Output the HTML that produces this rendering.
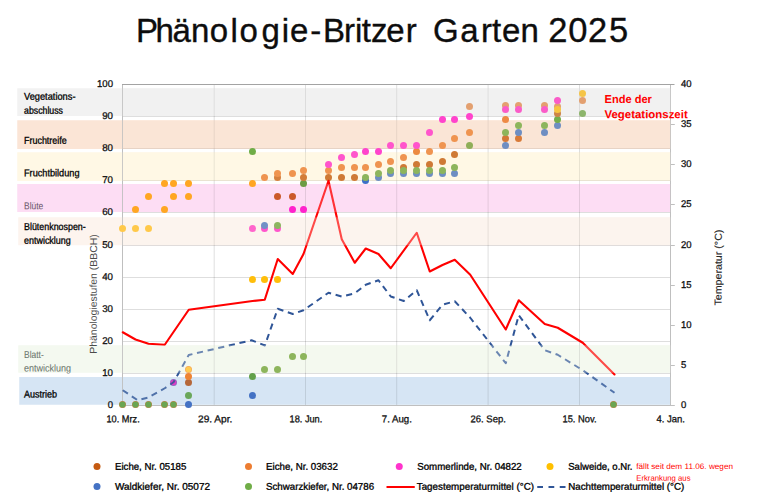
<!DOCTYPE html>
<html lang="de"><head><meta charset="utf-8"><title>Phänologie-Britzer Garten 2025</title>
<style>html,body{margin:0;padding:0;background:#fff}body{width:767px;height:496px;overflow:hidden}svg{display:block}text{font-family:"Liberation Sans", sans-serif}</style></head><body>
<svg width="767" height="496" viewBox="0 0 767 496">
<rect width="767" height="496" fill="#fff"/>
<g transform="translate(0.25 0.25)">
<rect x="17" y="88" width="653.25" height="27.75" fill="#F2F2F2"/>
<rect x="17" y="120" width="653.25" height="28.75" fill="#FBE5D6"/>
<rect x="17" y="152" width="653.25" height="28.75" fill="#FFF8E5"/>
<rect x="17" y="183.75" width="653.25" height="28" fill="#FDDDF4"/>
<rect x="18" y="217" width="652.25" height="28" fill="#FDF4EE"/>
<rect x="18" y="345" width="652.25" height="27.5" fill="#F4F9F0"/>
<rect x="19" y="376.75" width="651.25" height="27.75" fill="#D6E5F4"/>
</g>
<path d="M123 373.5H670M123 341.5H670M123 309.5H670M123 277.5H670M123 245.5H670M123 212.5H670M123 180.5H670M123 148.5H670M123 116.5H670M214.2 85V405M305.5 85V405M396.7 85V405M488.1 85V405M579.5 85V405" stroke="#000" stroke-opacity="0.13" stroke-width="1" fill="none"/>
<path d="M122.5 84V406M670.5 84V406M122 405.5H671" stroke="#BFBFBF" stroke-width="1" fill="none"/>
<path d="M122 84.5H674.5" stroke="#A3A3A3" stroke-width="1" fill="none"/>
<path d="M671 405.5h3.8M671 365.5h3.8M671 325.5h3.8M671 285.5h3.8M671 245.5h3.8M671 204.5h3.8M671 164.5h3.8M671 124.5h3.8" stroke="#BFBFBF" stroke-width="1" fill="none"/>
<g transform="translate(0.25 0.25)">
<polyline points="122.5,332 135.25,339.25 148.25,343.5 164.5,344.5 188.5,309.5 252.25,300.75 264.5,299.5 277.5,258.75 292.5,273.75 303.25,253.75 328.25,180.5 341.5,239 354.5,262.5 365.5,248.25 378.25,253.75 390.5,268 416.5,232.5 429.5,271.25 442.25,264.75 454.5,259.5 470,274.5 505.5,329.25 518.5,300 544.5,323.75 557.5,327.5 582.5,342.5 614.25,374.25" fill="none" stroke="#FF0000" stroke-width="2.1" stroke-linejoin="round" stroke-linecap="round"/>
<polyline id="nt" points="122.5,390 137.5,400 147.5,397.5 164.5,388 173.25,382 188.5,354.75 251.3,340 264.6,345.2 277.5,308.5 292.5,313.75 303.25,310 328.25,292.5 341.5,296.25 354.5,293 365.5,284.5 378.25,280 390.5,296.25 403.5,300.75 416.5,290 429.5,320 442.25,304.5 454.5,301 470,317.5 505.5,363 518.5,315 544.5,350 557.5,354.5 582.5,370 614.25,392.5" fill="none" stroke="#2F5597" stroke-width="2" stroke-dasharray="6.2 4.7" stroke-linejoin="round"/>
<rect x="122.25" y="88" width="548" height="27.75" fill="#F2F2F2" fill-opacity="0.35"/>
<rect x="122.25" y="120" width="548" height="28.75" fill="#FBE5D6" fill-opacity="0.4"/>
<rect x="122.25" y="152" width="548" height="28.75" fill="#FFF8E5" fill-opacity="0.35"/>
<rect x="122.25" y="183.75" width="548" height="28" fill="#FDDDF4" fill-opacity="0.22"/>
<rect x="122.25" y="217" width="548" height="28" fill="#FDF4EE" fill-opacity="0.3"/>
<rect x="122.25" y="345" width="548" height="27.5" fill="#F4F9F0" fill-opacity="0.3"/>
<rect x="122.25" y="376.75" width="548" height="27.75" fill="#D6E5F4" fill-opacity="0.2"/>
</g>
<circle cx="122.5" cy="228.5" r="3.5" fill="#FFC94A"/>
<circle cx="135.5" cy="228.5" r="3.5" fill="#FFC94A"/>
<circle cx="148.5" cy="228.5" r="3.5" fill="#FFC94A"/>
<circle cx="135.5" cy="209.5" r="3.5" fill="#FFA622"/>
<circle cx="148.5" cy="196.5" r="3.5" fill="#FFA622"/>
<circle cx="164.5" cy="209.5" r="3.5" fill="#FFA622"/>
<circle cx="164.5" cy="183.5" r="3.5" fill="#FFA622"/>
<circle cx="173.5" cy="183.5" r="3.5" fill="#FFA622"/>
<circle cx="173.5" cy="196.5" r="3.5" fill="#FFA622"/>
<circle cx="188.5" cy="183.5" r="3.5" fill="#FFA622"/>
<circle cx="188.5" cy="196.5" r="3.5" fill="#FFA622"/>
<circle cx="252.5" cy="183.5" r="3.5" fill="#FFA622"/>
<circle cx="252.5" cy="279.5" r="3.5" fill="#FFBE0A"/>
<circle cx="264.5" cy="279.5" r="3.5" fill="#FFBE0A"/>
<circle cx="277.5" cy="279.5" r="3.5" fill="#FFBE0A"/>
<circle cx="122.5" cy="404.5" r="3.5" fill="#C9824A"/><circle cx="122.5" cy="404.5" r="3.1" fill="#6AA552"/>
<circle cx="135.5" cy="404.5" r="3.5" fill="#C9824A"/><circle cx="135.5" cy="404.5" r="3.1" fill="#6AA552"/>
<circle cx="148.5" cy="404.5" r="3.5" fill="#C9824A"/><circle cx="148.5" cy="404.5" r="3.1" fill="#6AA552"/>
<circle cx="164.5" cy="404.5" r="3.5" fill="#C9824A"/><circle cx="164.5" cy="404.5" r="3.1" fill="#6AA552"/>
<circle cx="173.5" cy="404.5" r="3.5" fill="#C9824A"/><circle cx="173.5" cy="404.5" r="3.1" fill="#6AA552"/>
<circle cx="188.5" cy="404.5" r="3.5" fill="#4472C4"/>
<circle cx="188.5" cy="395.5" r="3.5" fill="#6AA75A"/>
<circle cx="188.5" cy="382.5" r="3.5" fill="#B5673A"/>
<circle cx="188.5" cy="376.5" r="3.5" fill="#EE8434"/>
<circle cx="188.5" cy="369.5" r="3.5" fill="#F6A85A"/><circle cx="188.5" cy="369.5" r="2.8" fill="#FFCB50"/>
<circle cx="173.5" cy="382.5" r="3.5" fill="#8E6BC0"/><circle cx="173.5" cy="382.5" r="2.8" fill="#DC3CC4"/>
<circle cx="252.5" cy="376.5" r="3.5" fill="#62A04A"/>
<circle cx="252.5" cy="395.5" r="3.5" fill="#4472C4"/>
<circle cx="264.5" cy="369.5" r="3.5" fill="#8DB55C"/>
<circle cx="277.5" cy="369.5" r="3.5" fill="#8DB55C"/>
<circle cx="292.5" cy="356.5" r="3.5" fill="#8DB55C"/>
<circle cx="303.5" cy="356.5" r="3.5" fill="#8DB55C"/>
<circle cx="252.5" cy="151.5" r="3.5" fill="#70AD47"/>
<circle cx="252.5" cy="228.5" r="3.5" fill="#FF66CC"/>
<circle cx="264.5" cy="228.5" r="3.5" fill="#FF55CC"/>
<circle cx="277.5" cy="228.5" r="3.5" fill="#FF55CC"/>
<circle cx="264.5" cy="225.5" r="3.5" fill="#7290C6"/>
<circle cx="277.5" cy="225.5" r="3.5" fill="#8DB560"/>
<circle cx="277.5" cy="196.5" r="3.5" fill="#CB5A2A"/>
<circle cx="292.5" cy="196.5" r="3.5" fill="#CB5A2A"/>
<circle cx="292.5" cy="209.5" r="3.5" fill="#FF22CC"/>
<circle cx="303.5" cy="209.5" r="3.5" fill="#FF22CC"/>
<circle cx="264.5" cy="177.5" r="3.5" fill="#EF9450"/>
<circle cx="277.5" cy="177.5" r="3.5" fill="#D5803F"/>
<circle cx="277.5" cy="173.5" r="3.5" fill="#EF9450"/>
<circle cx="292.5" cy="173.5" r="3.5" fill="#EF9450"/>
<circle cx="303.5" cy="183.5" r="3.5" fill="#6C9C44"/>
<circle cx="303.5" cy="177.5" r="3.5" fill="#D27C38"/>
<circle cx="303.5" cy="170.5" r="3.5" fill="#EF9450"/>
<circle cx="328.5" cy="177.5" r="3.5" fill="#CF7A35"/>
<circle cx="328.5" cy="170.5" r="3.5" fill="#EF9450"/>
<circle cx="328.5" cy="164.5" r="3.5" fill="#FF55CC"/>
<circle cx="341.5" cy="177.5" r="3.5" fill="#CF7A35"/>
<circle cx="341.5" cy="167.5" r="3.5" fill="#EF9450"/>
<circle cx="341.5" cy="157.5" r="3.5" fill="#FF55CC"/>
<circle cx="354.5" cy="177.5" r="3.5" fill="#CF7A35"/>
<circle cx="354.5" cy="167.5" r="3.5" fill="#EF9450"/>
<circle cx="354.5" cy="154.5" r="3.5" fill="#FF55CC"/>
<circle cx="365.5" cy="180.5" r="3.5" fill="#3D6FC8"/>
<circle cx="365.5" cy="177.5" r="3.5" fill="#8DB55C"/>
<circle cx="365.5" cy="167.5" r="3.5" fill="#EF9450"/>
<circle cx="365.5" cy="151.5" r="3.5" fill="#FF44CC"/>
<circle cx="378.5" cy="177.5" r="3.5" fill="#6E8EC2"/>
<circle cx="378.5" cy="173.5" r="3.5" fill="#8DB55C"/>
<circle cx="378.5" cy="164.5" r="3.5" fill="#EF9450"/>
<circle cx="378.5" cy="151.5" r="3.5" fill="#FF44CC"/>
<circle cx="390.5" cy="173.5" r="3.5" fill="#6E8EC2"/>
<circle cx="390.5" cy="170.5" r="3.5" fill="#8DB55C"/>
<circle cx="390.5" cy="161.5" r="3.5" fill="#EF9450"/>
<circle cx="390.5" cy="145.5" r="3.5" fill="#FF55CC"/>
<circle cx="403.5" cy="167.5" r="3.5" fill="#CF7A35"/>
<circle cx="403.5" cy="173.5" r="3.5" fill="#6E8EC2"/>
<circle cx="403.5" cy="170.5" r="3.5" fill="#8DB55C"/>
<circle cx="403.5" cy="157.5" r="3.5" fill="#EF9450"/>
<circle cx="403.5" cy="145.5" r="3.5" fill="#FF55CC"/>
<circle cx="416.5" cy="164.5" r="3.5" fill="#CF7A35"/>
<circle cx="416.5" cy="173.5" r="3.5" fill="#6E8EC2"/>
<circle cx="416.5" cy="170.5" r="3.5" fill="#8DB55C"/>
<circle cx="416.5" cy="151.5" r="3.5" fill="#EC8A40"/>
<circle cx="416.5" cy="145.5" r="3.5" fill="#FF55CC"/>
<circle cx="429.5" cy="164.5" r="3.5" fill="#CF7A35"/>
<circle cx="429.5" cy="173.5" r="3.5" fill="#6E8EC2"/>
<circle cx="429.5" cy="170.5" r="3.5" fill="#8DB55C"/>
<circle cx="429.5" cy="151.5" r="3.5" fill="#EF9450"/>
<circle cx="429.5" cy="132.5" r="3.5" fill="#FF55CC"/>
<circle cx="442.5" cy="161.5" r="3.5" fill="#CF7A35"/>
<circle cx="442.5" cy="173.5" r="3.5" fill="#6E8EC2"/>
<circle cx="442.5" cy="170.5" r="3.5" fill="#8DB55C"/>
<circle cx="442.5" cy="145.5" r="3.5" fill="#EF9450"/>
<circle cx="442.5" cy="119.5" r="3.5" fill="#FF44CC"/>
<circle cx="454.5" cy="173.5" r="3.5" fill="#6E8EC2"/>
<circle cx="454.5" cy="167.5" r="3.5" fill="#8DB55C"/>
<circle cx="454.5" cy="154.5" r="3.5" fill="#CF7A35"/>
<circle cx="454.5" cy="138.5" r="3.5" fill="#EF9450"/>
<circle cx="454.5" cy="119.5" r="3.5" fill="#FF44CC"/>
<circle cx="469.5" cy="145.5" r="3.5" fill="#8FAE58"/>
<circle cx="469.5" cy="132.5" r="3.5" fill="#EF9450"/>
<circle cx="469.5" cy="106.5" r="3.5" fill="#E3A070"/>
<circle cx="469.5" cy="116.5" r="3.5" fill="#FF44CC"/>
<circle cx="505.5" cy="145.5" r="3.5" fill="#6E8EC2"/>
<circle cx="505.5" cy="138.5" r="3.5" fill="#D27838"/>
<circle cx="505.5" cy="132.5" r="3.5" fill="#8DB55C"/>
<circle cx="505.5" cy="119.5" r="3.5" fill="#EE8A45"/>
<circle cx="505.5" cy="105.5" r="3.5" fill="#E3A070"/>
<circle cx="505.5" cy="109.5" r="3.5" fill="#FA5CC8"/>
<circle cx="518.5" cy="138.5" r="3.5" fill="#D87A38"/>
<circle cx="518.5" cy="132.5" r="3.5" fill="#6E8EC2"/>
<circle cx="518.5" cy="125.5" r="3.5" fill="#8DB55C"/>
<circle cx="518.5" cy="105.5" r="3.5" fill="#E3A070"/>
<circle cx="518.5" cy="109.5" r="3.5" fill="#FA5CC8"/>
<circle cx="544.5" cy="132.5" r="3.5" fill="#6E8EC2"/>
<circle cx="544.5" cy="125.5" r="3.5" fill="#8DB55C"/>
<circle cx="544.5" cy="105.5" r="3.5" fill="#E3A070"/>
<circle cx="544.5" cy="109.5" r="3.5" fill="#FA5CC8"/>
<circle cx="557.5" cy="125.5" r="3.5" fill="#6E8EC2"/>
<circle cx="557.5" cy="119.5" r="3.5" fill="#74AE4C"/>
<circle cx="557.5" cy="113.5" r="3.5" fill="#CC8548"/>
<circle cx="557.5" cy="106.5" r="3.5" fill="#E3A070"/>
<circle cx="557.5" cy="109.5" r="3.5" fill="#F7C640"/>
<circle cx="557.5" cy="100.5" r="3.5" fill="#FA5CC8"/>
<circle cx="582.5" cy="113.5" r="3.5" fill="#8DB56C"/>
<circle cx="582.5" cy="100.5" r="3.5" fill="#E3A070"/>
<circle cx="582.5" cy="93.5" r="3.5" fill="#F5C548"/>
<circle cx="613.5" cy="404.5" r="3.5" fill="#C9824A"/><circle cx="613.5" cy="404.5" r="3.1" fill="#6AA552"/>
<clipPath id="pc"><circle cx="173.5" cy="382.5" r="3.6"/></clipPath><g clip-path="url(#pc)"><polyline transform="translate(0.25 0.25)" points="122.5,390 137.5,400 147.5,397.5 164.5,388 173.25,382 188.5,354.75 251.3,340 264.6,345.2 277.5,308.5 292.5,313.75 303.25,310 328.25,292.5 341.5,296.25 354.5,293 365.5,284.5 378.25,280 390.5,296.25 403.5,300.75 416.5,290 429.5,320 442.25,304.5 454.5,301 470,317.5 505.5,363 518.5,315 544.5,350 557.5,354.5 582.5,370 614.25,392.5" fill="none" stroke="#2F5597" stroke-opacity="0.85" stroke-width="2" stroke-dasharray="6.2 4.7" stroke-linejoin="round"/></g>
<clipPath id="rc"><circle cx="328.5" cy="177.5" r="3.7"/></clipPath><g clip-path="url(#rc)"><polyline transform="translate(0.25 0.25)" points="122.5,332 135.25,339.25 148.25,343.5 164.5,344.5 188.5,309.5 252.25,300.75 264.5,299.5 277.5,258.75 292.5,273.75 303.25,253.75 328.25,180.5 341.5,239 354.5,262.5 365.5,248.25 378.25,253.75 390.5,268 416.5,232.5 429.5,271.25 442.25,264.75 454.5,259.5 470,274.5 505.5,329.25 518.5,300 544.5,323.75 557.5,327.5 582.5,342.5 614.25,374.25" fill="none" stroke="#FF0000" stroke-width="2.1" stroke-linejoin="round"/></g>
<text transform="translate(0 42.1) rotate(0.02)" x="136.1 155.5 172.6 191 209.8 230.4 239.4 261.5 281.7 290 310.3 322.9 343.9 355 361.8 371.1 386.3 405.8 420 433 460.2 481 492 502.1 520.6 538 548.2 568.2 588 608.9" font-size="33" fill="#0d0d0d" stroke="#0d0d0d" stroke-width="0.35">Phänologie-Britzer Garten <tspan font-size="34.5">2025</tspan></text>
<text transform="translate(24 99.75) rotate(0.05)" font-size="10" text-anchor="start" fill="#000" font-weight="normal" textLength="51.5" lengthAdjust="spacingAndGlyphs" stroke="#000" stroke-width="0.3">Vegetations-</text>
<text transform="translate(24 113.75) rotate(0.05)" font-size="10" text-anchor="start" fill="#000" font-weight="normal" textLength="39" lengthAdjust="spacingAndGlyphs" stroke="#000" stroke-width="0.3">abschluss</text>
<text transform="translate(24 143.75) rotate(0.05)" font-size="10" text-anchor="start" fill="#000" font-weight="normal" textLength="42.75" lengthAdjust="spacingAndGlyphs" stroke="#000" stroke-width="0.3">Fruchtreife</text>
<text transform="translate(24 176.25) rotate(0.05)" font-size="10" text-anchor="start" fill="#000" font-weight="normal" textLength="55.5" lengthAdjust="spacingAndGlyphs" stroke="#000" stroke-width="0.3">Fruchtbildung</text>
<text transform="translate(24 209.25) rotate(0.05)" font-size="10" text-anchor="start" fill="#6A566A" font-weight="normal" textLength="19.25" lengthAdjust="spacingAndGlyphs" stroke="#6A566A" stroke-width="0.05">Blüte</text>
<text transform="translate(24 230) rotate(0.05)" font-size="10" text-anchor="start" fill="#000" font-weight="normal" textLength="61.75" lengthAdjust="spacingAndGlyphs" stroke="#000" stroke-width="0.3">Blütenknospen-</text>
<text transform="translate(24 243.75) rotate(0.05)" font-size="10" text-anchor="start" fill="#000" font-weight="normal" textLength="46.75" lengthAdjust="spacingAndGlyphs" stroke="#000" stroke-width="0.3">entwicklung</text>
<text transform="translate(24 358) rotate(0.05)" font-size="10" text-anchor="start" fill="#69736A" font-weight="normal" textLength="19.75" lengthAdjust="spacingAndGlyphs" stroke="#69736A" stroke-width="0.05">Blatt-</text>
<text transform="translate(24 371.5) rotate(0.05)" font-size="10" text-anchor="start" fill="#69736A" font-weight="normal" textLength="47" lengthAdjust="spacingAndGlyphs" stroke="#69736A" stroke-width="0.05">entwicklung</text>
<text transform="translate(24 397.5) rotate(0.05)" font-size="10" text-anchor="start" fill="#000" font-weight="normal" textLength="33" lengthAdjust="spacingAndGlyphs" stroke="#000" stroke-width="0.3">Austrieb</text>
<text transform="translate(113 407.9) rotate(0.05)" font-size="9.8" text-anchor="end" fill="#111" font-weight="normal" textLength="5.3" lengthAdjust="spacingAndGlyphs" stroke="#111" stroke-width="0.3">0</text>
<text transform="translate(113 375.9) rotate(0.05)" font-size="9.8" text-anchor="end" fill="#111" font-weight="normal" textLength="10.8" lengthAdjust="spacingAndGlyphs" stroke="#111" stroke-width="0.3">10</text>
<text transform="translate(113 343.9) rotate(0.05)" font-size="9.8" text-anchor="end" fill="#111" font-weight="normal" textLength="10.8" lengthAdjust="spacingAndGlyphs" stroke="#111" stroke-width="0.3">20</text>
<text transform="translate(113 311.9) rotate(0.05)" font-size="9.8" text-anchor="end" fill="#111" font-weight="normal" textLength="10.8" lengthAdjust="spacingAndGlyphs" stroke="#111" stroke-width="0.3">30</text>
<text transform="translate(113 279.9) rotate(0.05)" font-size="9.8" text-anchor="end" fill="#111" font-weight="normal" textLength="10.8" lengthAdjust="spacingAndGlyphs" stroke="#111" stroke-width="0.3">40</text>
<text transform="translate(113 247.9) rotate(0.05)" font-size="9.8" text-anchor="end" fill="#111" font-weight="normal" textLength="10.8" lengthAdjust="spacingAndGlyphs" stroke="#111" stroke-width="0.3">50</text>
<text transform="translate(113 214.9) rotate(0.05)" font-size="9.8" text-anchor="end" fill="#111" font-weight="normal" textLength="10.8" lengthAdjust="spacingAndGlyphs" stroke="#111" stroke-width="0.3">60</text>
<text transform="translate(113 182.9) rotate(0.05)" font-size="9.8" text-anchor="end" fill="#111" font-weight="normal" textLength="10.8" lengthAdjust="spacingAndGlyphs" stroke="#111" stroke-width="0.3">70</text>
<text transform="translate(113 150.9) rotate(0.05)" font-size="9.8" text-anchor="end" fill="#111" font-weight="normal" textLength="10.8" lengthAdjust="spacingAndGlyphs" stroke="#111" stroke-width="0.3">80</text>
<text transform="translate(113 118.9) rotate(0.05)" font-size="9.8" text-anchor="end" fill="#111" font-weight="normal" textLength="10.8" lengthAdjust="spacingAndGlyphs" stroke="#111" stroke-width="0.3">90</text>
<text transform="translate(113 86.9) rotate(0.05)" font-size="9.8" text-anchor="end" fill="#111" font-weight="normal" textLength="16" lengthAdjust="spacingAndGlyphs" stroke="#111" stroke-width="0.3">100</text>
<text transform="translate(681 407.9) rotate(0.05)" font-size="9.8" text-anchor="start" fill="#111" font-weight="normal" textLength="5.3" lengthAdjust="spacingAndGlyphs" stroke="#111" stroke-width="0.3">0</text>
<text transform="translate(681 367.9) rotate(0.05)" font-size="9.8" text-anchor="start" fill="#111" font-weight="normal" textLength="5.3" lengthAdjust="spacingAndGlyphs" stroke="#111" stroke-width="0.3">5</text>
<text transform="translate(681 327.9) rotate(0.05)" font-size="9.8" text-anchor="start" fill="#111" font-weight="normal" textLength="10.6" lengthAdjust="spacingAndGlyphs" stroke="#111" stroke-width="0.3">10</text>
<text transform="translate(681 287.9) rotate(0.05)" font-size="9.8" text-anchor="start" fill="#111" font-weight="normal" textLength="10.6" lengthAdjust="spacingAndGlyphs" stroke="#111" stroke-width="0.3">15</text>
<text transform="translate(681 247.9) rotate(0.05)" font-size="9.8" text-anchor="start" fill="#111" font-weight="normal" textLength="10.6" lengthAdjust="spacingAndGlyphs" stroke="#111" stroke-width="0.3">20</text>
<text transform="translate(681 206.9) rotate(0.05)" font-size="9.8" text-anchor="start" fill="#111" font-weight="normal" textLength="10.6" lengthAdjust="spacingAndGlyphs" stroke="#111" stroke-width="0.3">25</text>
<text transform="translate(681 166.9) rotate(0.05)" font-size="9.8" text-anchor="start" fill="#111" font-weight="normal" textLength="10.6" lengthAdjust="spacingAndGlyphs" stroke="#111" stroke-width="0.3">30</text>
<text transform="translate(681 126.9) rotate(0.05)" font-size="9.8" text-anchor="start" fill="#111" font-weight="normal" textLength="10.6" lengthAdjust="spacingAndGlyphs" stroke="#111" stroke-width="0.3">35</text>
<text transform="translate(681 86.9) rotate(0.05)" font-size="9.8" text-anchor="start" fill="#111" font-weight="normal" textLength="10.6" lengthAdjust="spacingAndGlyphs" stroke="#111" stroke-width="0.3">40</text>
<text transform="translate(106.5 422.2) rotate(0.05)" font-size="9.8" text-anchor="start" fill="#111" font-weight="normal" textLength="33.2" lengthAdjust="spacingAndGlyphs" stroke="#111" stroke-width="0.3">10. Mrz.</text>
<text transform="translate(198 422.2) rotate(0.05)" font-size="9.8" text-anchor="start" fill="#111" font-weight="normal" textLength="34.4" lengthAdjust="spacingAndGlyphs" stroke="#111" stroke-width="0.3">29. Apr.</text>
<text transform="translate(289.5 422.2) rotate(0.05)" font-size="9.8" text-anchor="start" fill="#111" font-weight="normal" textLength="32.8" lengthAdjust="spacingAndGlyphs" stroke="#111" stroke-width="0.3">18. Jun.</text>
<text transform="translate(381.8 422.2) rotate(0.05)" font-size="9.8" text-anchor="start" fill="#111" font-weight="normal" textLength="30.1" lengthAdjust="spacingAndGlyphs" stroke="#111" stroke-width="0.3">7. Aug.</text>
<text transform="translate(470.6 422.2) rotate(0.05)" font-size="9.8" text-anchor="start" fill="#111" font-weight="normal" textLength="35.2" lengthAdjust="spacingAndGlyphs" stroke="#111" stroke-width="0.3">26. Sep.</text>
<text transform="translate(562.5 422.2) rotate(0.05)" font-size="9.8" text-anchor="start" fill="#111" font-weight="normal" textLength="34" lengthAdjust="spacingAndGlyphs" stroke="#111" stroke-width="0.3">15. Nov.</text>
<text transform="translate(656.4 422.2) rotate(0.05)" font-size="9.8" text-anchor="start" fill="#111" font-weight="normal" textLength="28.5" lengthAdjust="spacingAndGlyphs" stroke="#111" stroke-width="0.3">4. Jan.</text>
<text transform="translate(96.8 353.7) rotate(-89.95)" font-size="10" fill="#4a4a4a" textLength="119.4" lengthAdjust="spacingAndGlyphs">Phänologiestufen (BBCH)</text>
<text transform="translate(721.6 305.6) rotate(-89.95)" stroke-width="0.15" stroke="#262626" font-size="10" fill="#262626" textLength="76" lengthAdjust="spacingAndGlyphs">Temperatur (°C)</text>
<text transform="translate(604.5 103) rotate(0.05)" font-size="11.5" text-anchor="start" fill="#FF0000" font-weight="bold" textLength="47.4" lengthAdjust="spacingAndGlyphs">Ende der</text>
<text transform="translate(604.5 118.25) rotate(0.05)" font-size="11.5" text-anchor="start" fill="#FF0000" font-weight="bold" textLength="83.2" lengthAdjust="spacingAndGlyphs">Vegetationszeit</text>
<circle cx="97" cy="466.5" r="3.5" fill="#C55A11"/>
<text transform="translate(115 469.75) rotate(0.05)" font-size="9.7" text-anchor="start" fill="#000" font-weight="normal" textLength="71.25" lengthAdjust="spacingAndGlyphs" stroke="#000" stroke-width="0.3">Eiche, Nr. 05185</text>
<circle cx="248.5" cy="466.5" r="3.5" fill="#ED7D31"/>
<text transform="translate(266 469.75) rotate(0.05)" font-size="9.7" text-anchor="start" fill="#000" font-weight="normal" textLength="71.8" lengthAdjust="spacingAndGlyphs" stroke="#000" stroke-width="0.3">Eiche, Nr. 03632</text>
<circle cx="399.25" cy="466.5" r="3.5" fill="#FF33CC"/>
<text transform="translate(417.25 469.75) rotate(0.05)" font-size="9.7" text-anchor="start" fill="#000" font-weight="normal" textLength="104.5" lengthAdjust="spacingAndGlyphs" stroke="#000" stroke-width="0.3">Sommerlinde, Nr. 04822</text>
<circle cx="550" cy="466.5" r="3.5" fill="#FFC000"/>
<text transform="translate(568.25 469.75) rotate(0.05)" font-size="9.7" text-anchor="start" fill="#000" font-weight="normal" textLength="64.25" lengthAdjust="spacingAndGlyphs" stroke="#000" stroke-width="0.3">Salweide, o.Nr.</text>
<circle cx="97" cy="486.5" r="3.5" fill="#4472C4"/>
<text transform="translate(115 489.75) rotate(0.05)" font-size="9.7" text-anchor="start" fill="#000" font-weight="normal" textLength="95" lengthAdjust="spacingAndGlyphs" stroke="#000" stroke-width="0.3">Waldkiefer, Nr. 05072</text>
<circle cx="248.5" cy="486.5" r="3.5" fill="#70AD47"/>
<text transform="translate(266 489.75) rotate(0.05)" font-size="9.7" text-anchor="start" fill="#000" font-weight="normal" textLength="108.1" lengthAdjust="spacingAndGlyphs" stroke="#000" stroke-width="0.3">Schwarzkiefer, Nr. 04786</text>
<path d="M386.5 487H414.75" stroke="#FF0000" stroke-width="2" fill="none"/>
<text transform="translate(416.75 489.75) rotate(0.05)" font-size="9.7" text-anchor="start" fill="#000" font-weight="normal" textLength="117.25" lengthAdjust="spacingAndGlyphs" stroke="#000" stroke-width="0.3">Tagestemperaturmittel (°C)</text>
<path d="M537.25 487H566" stroke="#2F5597" stroke-width="2" stroke-dasharray="5.75 5.5" fill="none"/>
<text transform="translate(568.25 489.75) rotate(0.05)" font-size="9.7" text-anchor="start" fill="#000" font-weight="normal" textLength="116" lengthAdjust="spacingAndGlyphs" stroke="#000" stroke-width="0.3">Nachttemperaturmittel (°C)</text>
<text transform="translate(636.25 469) rotate(0.05)" font-size="8" text-anchor="start" fill="#FF0000" font-weight="normal" textLength="96.75" lengthAdjust="spacingAndGlyphs">fällt seit dem 11.06. wegen</text>
<text transform="translate(636.25 480.75) rotate(0.05)" font-size="8" text-anchor="start" fill="#FF0000" font-weight="normal" textLength="54.25" lengthAdjust="spacingAndGlyphs">Erkrankung aus</text>
</svg></body></html>
